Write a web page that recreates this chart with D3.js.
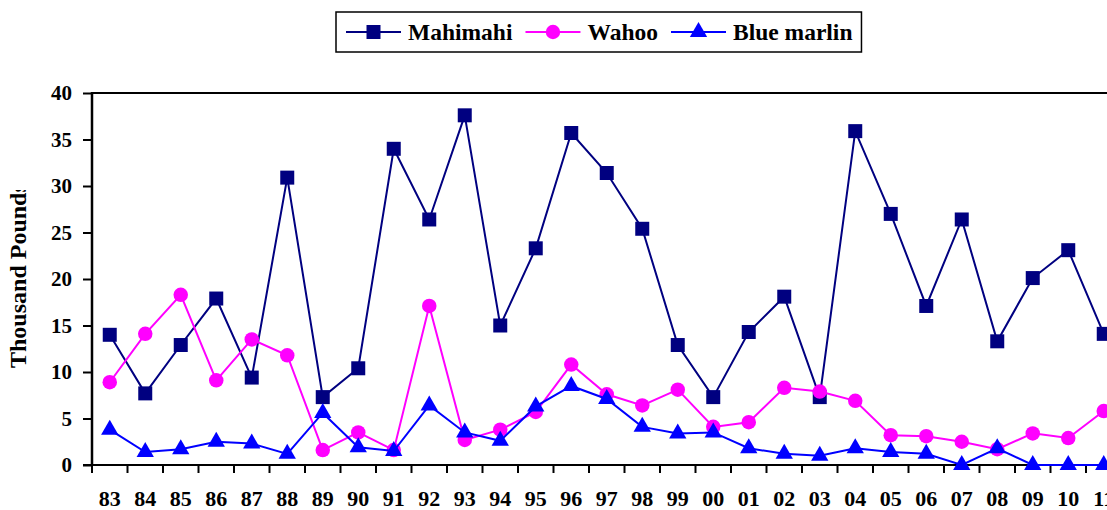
<!DOCTYPE html>
<html>
<head>
<meta charset="utf-8">
<script src="https://cdn.jsdelivr.net/npm/d3@7"></script>
<style>
  body { margin: 0; background: #fff; }
  svg text { font-family: "Liberation Serif", "Times New Roman", serif; font-weight: bold; }
</style>
</head>
<body>
<script>
const WIDTH = 1107;
const HEIGHT = 510;

// the data
const years = ["83","84","85","86","87","88","89","90","91","92","93","94","95","96","97",
               "98","99","00","01","02","03","04","05","06","07","08","09","10","11"];
const mahimahi = [14.0, 7.7, 12.9, 17.9, 9.4, 30.9, 7.3, 10.4, 34.0, 26.4, 37.6, 15.0, 23.3, 35.7, 31.4,
                  25.4, 12.9, 7.3, 14.3, 18.1, 7.3, 35.9, 27.0, 17.1, 26.4, 13.3, 20.1, 23.1, 14.1];
const wahoo = [8.9, 14.1, 18.3, 9.1, 13.5, 11.8, 1.6, 3.5, 1.6, 17.1, 2.7, 3.8, 5.7, 10.8, 7.6,
               6.4, 8.1, 4.1, 4.6, 8.3, 7.9, 6.9, 3.2, 3.1, 2.5, 1.7, 3.4, 2.9, 5.8];
const blueMarlin = [3.8, 1.4, 1.7, 2.5, 2.3, 1.2, 5.6, 1.9, 1.5, 6.4, 3.5, 2.6, 6.3, 8.5, 7.1,
                    4.1, 3.4, 3.5, 1.8, 1.2, 1.0, 1.8, 1.4, 1.2, 0, 1.8, 0, 0, 0];
const yTicks = [0, 5, 10, 15, 20, 25, 30, 35, 40];
const seriesNames = ["Mahimahi", "Wahoo", "Blue marlin"];

const series = [
  { name: seriesNames[0], values: mahimahi, color: "#000080", symbol: d3.symbolSquare, size: 196 },
  { name: seriesNames[1], values: wahoo, color: "#ff00ff", symbol: d3.symbolCircle, size: 165 },
  { name: seriesNames[2], values: blueMarlin, color: "#0000ff", symbol: d3.symbolTriangle, size: 130 }
];

// plot area
const LEFT = 92;
const TOP = 93;
const BOTTOM = 465;
const BAND = 35.5;

const svg = d3.select("body").append("svg")
  .attr("width", WIDTH)
  .attr("height", HEIGHT);

const xScale = d3.scaleBand()
  .domain(years)
  .range([LEFT, LEFT + BAND * years.length]);

const yScale = d3.scaleLinear()
  .domain([0, 40])
  .range([BOTTOM, TOP]);

// top frame line
svg.append("line")
  .attr("x1", LEFT).attr("x2", WIDTH)
  .attr("y1", TOP).attr("y2", TOP)
  .attr("stroke", "#000").attr("stroke-width", 2);

// y axis
const yAxis = svg.append("g")
  .attr("transform", "translate(" + LEFT + ",0)")
  .call(d3.axisLeft(yScale).tickValues(yTicks).tickSize(9).tickPadding(11));
yAxis.select(".domain").remove();
yAxis.selectAll(".tick line").attr("stroke-width", 2);
yAxis.selectAll("text").style("font-size", "21px").attr("fill", "#000");
yAxis.append("line")
  .attr("y1", TOP - 1).attr("y2", BOTTOM + 1)
  .attr("stroke", "#000").attr("stroke-width", 2.5);

// x axis: labels centred in each band, ticks on the band edges
const xAxis = svg.append("g")
  .attr("transform", "translate(0," + BOTTOM + ")")
  .call(d3.axisBottom(xScale).tickSize(0).tickPadding(25));
xAxis.select(".domain").remove();
xAxis.selectAll("text").style("font-size", "22px").attr("fill", "#000");
xAxis.selectAll(".edge")
  .data(years)
  .enter().append("line")
  .attr("class", "edge")
  .attr("x1", d => xScale(d)).attr("x2", d => xScale(d))
  .attr("y1", 0).attr("y2", 8)
  .attr("stroke", "#000").attr("stroke-width", 2);
xAxis.append("line")
  .attr("x1", LEFT - 9).attr("x2", WIDTH)
  .attr("stroke", "#000").attr("stroke-width", 2);

// y axis title, clipped at the top like the original
svg.append("clipPath").attr("id", "titleClip")
  .append("rect").attr("x", 0).attr("y", 190).attr("width", 60).attr("height", 200);
svg.append("g")
  .attr("clip-path", "url(#titleClip)")
  .append("text")
  .attr("transform", "translate(26,368) rotate(-90)")
  .style("font-size", "24px")
  .text("Thousand Pounds");

// lines and markers
const line = d3.line()
  .x((d, i) => xScale(years[i]) + xScale.bandwidth() / 2)
  .y(d => yScale(d));

series.forEach(s => {
  svg.append("path")
    .datum(s.values)
    .attr("d", line)
    .attr("fill", "none")
    .attr("stroke", s.color)
    .attr("stroke-width", 2);

  svg.selectAll(".m-" + s.name.replace(" ", ""))
    .data(s.values)
    .enter().append("path")
    .attr("d", d3.symbol().type(s.symbol).size(s.size))
    .attr("transform", (d, i) => "translate(" + (xScale(years[i]) + xScale.bandwidth() / 2) + "," + yScale(d) + ")")
    .attr("fill", s.color);
});

// legend
const legend = svg.append("g");
const legendBox = legend.append("rect")
  .attr("fill", "#fff").attr("stroke", "#000").attr("stroke-width", 1.5);
const GAP = 13;
let lx = 346;
const ly = 32;
series.forEach(s => {
  legend.append("line")
    .attr("x1", lx).attr("x2", lx + 55)
    .attr("y1", ly).attr("y2", ly)
    .attr("stroke", s.color).attr("stroke-width", 2);
  legend.append("path")
    .attr("d", d3.symbol().type(s.symbol).size(s.size))
    .attr("transform", "translate(" + (lx + 27.5) + "," + ly + ")")
    .attr("fill", s.color);
  const t = legend.append("text")
    .attr("x", lx + 62).attr("y", ly + 8)
    .style("font-size", "23.5px")
    .text(s.name);
  lx += 62 + t.node().getComputedTextLength() + GAP;
});
legendBox
  .attr("x", 336).attr("y", 12)
  .attr("width", lx - GAP + 9 - 336).attr("height", 40);
</script>
</body>
</html>
